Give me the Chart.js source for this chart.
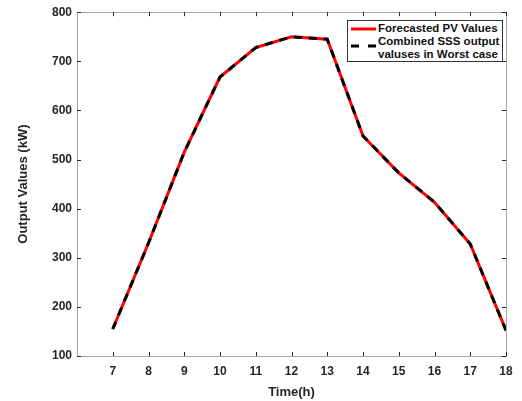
<!DOCTYPE html>
<html>
<head>
<meta charset="utf-8">
<script src="https://cdn.jsdelivr.net/npm/chart.js@4"></script>
<style>
  body { margin: 0; background: #fff; }
  #wrap { position: relative; width: 522px; height: 401px; }
  #legend {
    position: absolute; left: 347px; top: 20px; width: 156px; height: 42px;
    background: #fff; border: 1px solid #333; box-sizing: border-box;
    font: bold 11.5px "Liberation Sans", Arial, sans-serif; color: #111;
  }
  .row { position: absolute; left: 2px; white-space: nowrap; line-height: 13px; }
  .row svg { position: absolute; left: 0; top: 0; }
  .row span { position: absolute; left: 28px; }
</style>
</head>
<body>
<div id="wrap">
  <canvas id="c" width="522" height="401"></canvas>
  <div id="legend">
    <div class="row" style="top:1px">
      <svg width="26" height="13"><line x1="1" y1="7" x2="26" y2="7" stroke="#ff0000" stroke-width="3"/></svg>
      <span>Forecasted PV Values</span>
    </div>
    <div class="row" style="top:14px">
      <svg width="26" height="26"><line x1="1" y1="11" x2="26" y2="11" stroke="#000" stroke-width="3" stroke-dasharray="8,9"/></svg>
      <span>Combined SSS output<br>valuses in Worst case</span>
    </div>
  </div>
</div>
<script>
const hours = [7, 8, 9, 10, 11, 12, 13, 14, 15, 16, 17, 18];
const forecastPV = [155, 330, 515, 668, 728, 750, 745, 548, 473, 413, 328, 152];
const combinedSSS = [155, 330, 515, 668, 728, 750, 745, 548, 473, 413, 328, 152];
const yTicks = [100, 200, 300, 400, 500, 600, 700, 800];

const fontFam = "'Liberation Sans', Arial, sans-serif";
const tickFont = { family: fontFam, size: 12, weight: "bold" };

// MATLAB-style box with inward ticks
const boxPlugin = {
    id: "box",
    afterDraw(chart) {
        const { ctx, chartArea: a, scales } = chart;
        ctx.save();
        ctx.strokeStyle = "#a6a6a6";
        ctx.lineWidth = 1;
        ctx.strokeRect(Math.round(a.left) + 0.5, Math.round(a.top) + 0.5,
            Math.round(a.right - a.left), Math.round(a.bottom - a.top));
        ctx.strokeStyle = "#262626";
        ctx.beginPath();
        hours.forEach(h => {
            const x = Math.round(scales.x.getPixelForValue(h)) + 0.5;
            ctx.moveTo(x, a.bottom); ctx.lineTo(x, a.bottom - 4);
            ctx.moveTo(x, a.top); ctx.lineTo(x, a.top + 4);
        });
        yTicks.forEach(v => {
            const y = Math.round(scales.y.getPixelForValue(v)) + 0.5;
            ctx.moveTo(a.left, y); ctx.lineTo(a.left + 4, y);
            ctx.moveTo(a.right, y); ctx.lineTo(a.right - 4, y);
        });
        ctx.stroke();
        ctx.restore();
    }
};

new Chart(document.getElementById("c"), {
    type: "line",
    data: {
        datasets: [
            {
                label: "Forecasted PV Values",
                data: hours.map((h, i) => ({ x: h, y: forecastPV[i] })),
                borderColor: "#ff0000",
                borderWidth: 3,
                pointRadius: 0,
                tension: 0,
                order: 1
            },
            {
                label: "Combined SSS output valuses in Worst case",
                data: hours.map((h, i) => ({ x: h, y: combinedSSS[i] })),
                borderColor: "#000000",
                borderWidth: 3,
                borderDash: [8, 7],
                pointRadius: 0,
                tension: 0,
                order: 0
            }
        ]
    },
    options: {
        responsive: false,
        animation: false,
        layout: { padding: { top: 12, right: 16, left: 16, bottom: 0 } },
        plugins: { legend: { display: false }, tooltip: { enabled: false } },
        scales: {
            x: {
                type: "linear",
                min: 6, max: 18,
                grid: { display: false },
                border: { display: false },
                ticks: {
                    stepSize: 1, color: "#262626", font: tickFont, padding: 0,
                    maxRotation: 0,
                    callback: v => (v >= 7 ? v : "")
                },
                title: {
                    display: true, text: "Time(h)", color: "#262626",
                    font: { family: fontFam, size: 13, weight: "bold" },
                    padding: { top: 0, bottom: 1 }
                },
                afterFit: s => { s.height = 45; }
            },
            y: {
                min: 100, max: 800,
                grid: { display: false, drawTicks: false },
                border: { display: false },
                ticks: { stepSize: 100, color: "#262626", font: tickFont, padding: 5 },
                title: {
                    display: true, text: "Output Values (kW)", color: "#262626",
                    font: { family: fontFam, size: 13, weight: "bold" },
                    padding: { top: 0, bottom: 6 }
                },
                afterFit: s => { s.width = 61; }
            }
        }
    },
    plugins: [boxPlugin]
});
</script>
</body>
</html>
